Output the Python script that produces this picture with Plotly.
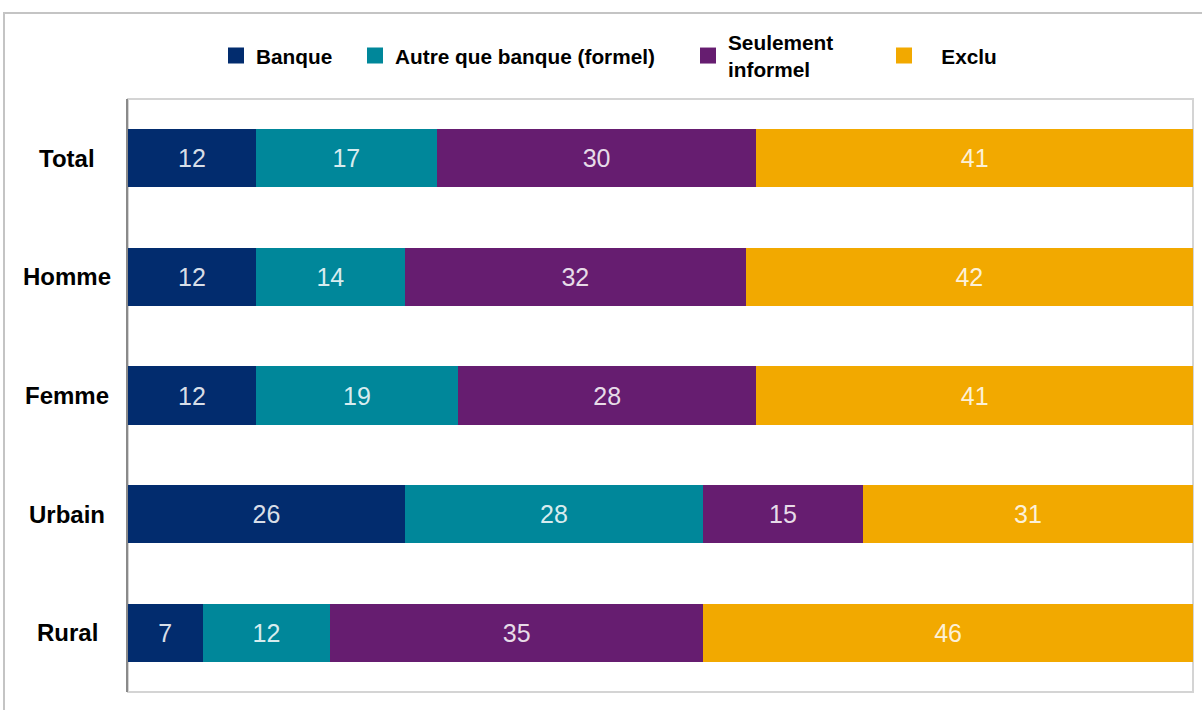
import plotly.graph_objects as go

categories = ["Total", "Homme", "Femme", "Urbain", "Rural"]
banque = [12, 12, 12, 26, 7]
autre = [17, 14, 19, 28, 12]
informel = [30, 32, 28, 15, 35]
exclu = [41, 42, 41, 31, 46]

series_names = ["Banque", "Autre que banque (formel)", "Seulement<br>informel", "\u00a0\u00a0\u00a0Exclu"]
series_values = [banque, autre, informel, exclu]
series_colors = ["#022c6e", "#00879a", "#661d70", "#f2a900"]

FONT = "Liberation Sans, Arial, sans-serif"
L, R, T, B = 128, 9, 99, 18
W, H = 1202, 710
PW, PH = W - L - R, H - T - B

def px_x(p):
    return (p - L) / PW

def px_y(p):
    return (H - B - p) / PH

legend_left_px = [216, 355, 688, 884]
legend_ids = ["legend", "legend2", "legend3", "legend4"]

fig = go.Figure()
for name, vals, col in zip(series_names, series_values, series_colors):
    fig.add_trace(go.Bar(
        y=categories, x=vals, name=name, orientation="h", showlegend=False,
        marker=dict(color=col, line=dict(width=0)),
        text=vals, texttemplate="%{text}", textposition="inside",
        insidetextanchor="middle",
        textfont=dict(color="rgba(255,255,255,0.86)", size=25, family=FONT),
        constraintext="none",
    ))

# legend entries (square swatches)
for name, col, lid in zip(series_names, series_colors, legend_ids):
    fig.add_trace(go.Scatter(
        x=[None], y=[None], mode="markers", name=name, legend=lid,
        marker=dict(symbol="square", size=16, color=col),
        showlegend=True, hoverinfo="skip",
    ))

legend_common = dict(
    orientation="h", yanchor="middle", xanchor="left",
    font=dict(size=20.8, family=FONT, color="black", weight="bold"),
    itemclick=False, itemdoubleclick=False, bgcolor="rgba(0,0,0,0)",
    borderwidth=0, itemsizing="trace",
)
layout_legends = {}
for lid, lx in zip(legend_ids, legend_left_px):
    layout_legends[lid] = dict(legend_common, x=px_x(lx), y=px_y(56))

fig.update_layout(
    barmode="stack",
    bargap=0.51,
    width=W, height=H,
    margin=dict(l=L, r=R, t=T, b=B),
    paper_bgcolor="white", plot_bgcolor="white",
    font=dict(family=FONT, color="black"),
    showlegend=True,
    uniformtext=dict(mode=False),
    **layout_legends,
)
fig.update_xaxes(range=[0, 100], showgrid=False, zeroline=False, showticklabels=False,
                 showline=False, fixedrange=True)
fig.update_yaxes(categoryorder="array", categoryarray=categories, autorange="reversed",
                 showgrid=False, zeroline=False, showline=True, linecolor="#8a8a8a", linewidth=2,
                 ticks="", showticklabels=False, fixedrange=True)

# category labels, centred in the left margin
for cat in categories:
    fig.add_annotation(x=px_x(67), xref="paper", y=cat, yref="y", text=cat,
                       showarrow=False, xanchor="center", yanchor="middle",
                       font=dict(size=24, family=FONT, color="black", weight="bold"))

# plot area light frame
fig.add_shape(type="rect", xref="paper", yref="paper", x0=0, x1=1, y0=0, y1=1,
              line=dict(color="#d4d4d4", width=2), layer="below")
# outer chart frame
fig.add_shape(type="rect", xref="paper", yref="paper", x0=px_x(4), x1=1.05, y0=-0.2, y1=px_y(13),
              line=dict(color="#c4c4c4", width=2), layer="below")

fig.write_html("out.html")
